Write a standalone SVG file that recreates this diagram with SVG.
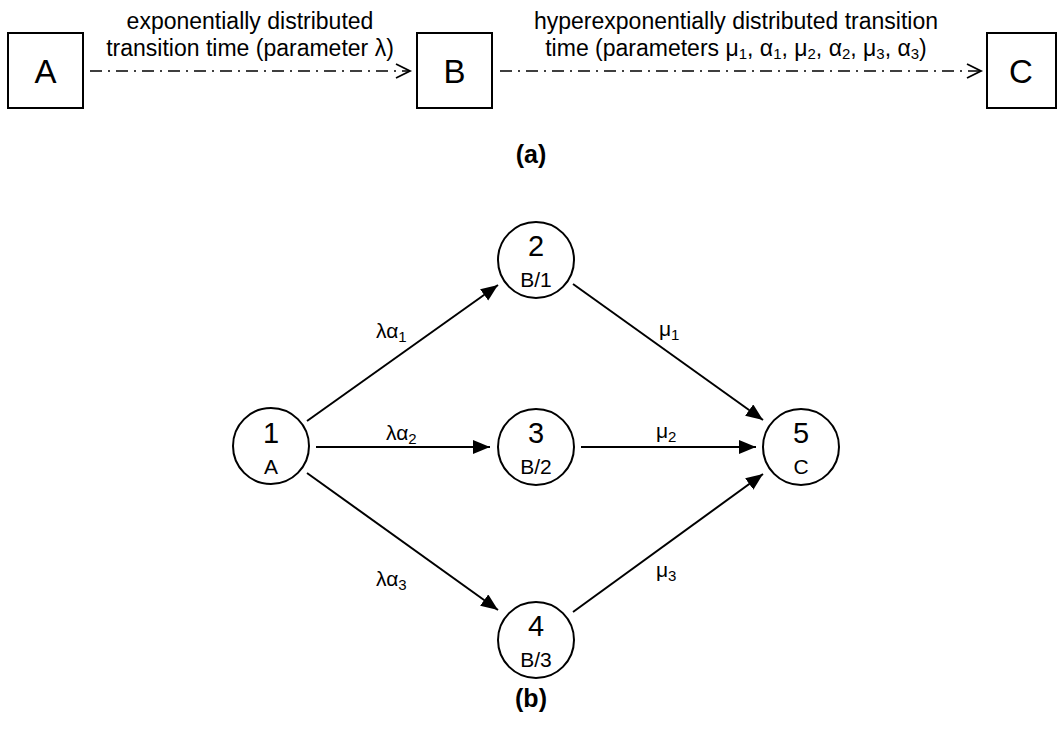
<svg xmlns="http://www.w3.org/2000/svg" width="1059" height="733" viewBox="0 0 1059 733">
  <defs>
    <style>
      text { font-family: "Liberation Sans", Arial, sans-serif; fill: #000; }
      .box { fill: #fff; stroke: #000; stroke-width: 2; }
      .state { fill: #fff; stroke: #000; stroke-width: 2; }
      .boxlbl { font-size: 33px; text-anchor: middle; }
      .num { font-size: 29px; text-anchor: middle; }
      .sub { font-size: 21px; text-anchor: middle; }
      .desc { font-size: 23px; text-anchor: middle; }
      .rate { font-size: 21px; }
      .cap { font-size: 25px; font-weight: bold; text-anchor: middle; }
      .dashdot { fill: none; stroke: #000; stroke-width: 1.6; stroke-dasharray: 12 6 2 6; }
      .edge { fill: none; stroke: #000; stroke-width: 2; }
    </style>
    <marker id="open" markerUnits="userSpaceOnUse" markerWidth="20" markerHeight="20" refX="15" refY="8" orient="auto">
      <path d="M1,1 L15,8 L1,15" fill="none" stroke="#000" stroke-width="1.8"/>
    </marker>
    <marker id="solid" markerUnits="userSpaceOnUse" markerWidth="20" markerHeight="16" refX="17" refY="7" orient="auto">
      <path d="M0,0 L17,7 L0,14 Z" fill="#000"/>
    </marker>
  </defs>

  <!-- (a) state sequence -->
  <g id="boxA">
    <rect class="box" x="8" y="33" width="75" height="75"/>
    <text class="boxlbl" x="45.5" y="82.5">A</text>
  </g>
  <g id="boxB">
    <rect class="box" x="417" y="33" width="75" height="75"/>
    <text class="boxlbl" x="454.5" y="82.5">B</text>
  </g>
  <g id="boxC">
    <rect class="box" x="987" y="33" width="69" height="75"/>
    <text class="boxlbl" x="1021" y="82.5">C</text>
  </g>

  <g id="transitions-a">
    <line class="dashdot" x1="90" y1="71" x2="410" y2="71" marker-end="url(#open)"/>
    <line class="dashdot" x1="500" y1="71" x2="981" y2="71" marker-end="url(#open)"/>
    <text class="desc" x="250" y="29">exponentially distributed</text>
    <text class="desc" x="250" y="56">transition time (parameter λ)</text>
    <text class="desc" x="736" y="29">hyperexponentially distributed transition</text>
    <text class="desc" x="736" y="56">time (parameters μ<tspan font-size="15" dy="3">1</tspan><tspan dy="-3">, α</tspan><tspan font-size="15" dy="3">1</tspan><tspan dy="-3">, μ</tspan><tspan font-size="15" dy="3">2</tspan><tspan dy="-3">, α</tspan><tspan font-size="15" dy="3">2</tspan><tspan dy="-3">, μ</tspan><tspan font-size="15" dy="3">3</tspan><tspan dy="-3">, α</tspan><tspan font-size="15" dy="3">3</tspan><tspan dy="-3">)</tspan></text>
  </g>

  <text class="cap" x="531" y="163">(a)</text>

  <!-- (b) Markov chain -->
  <g id="connectors">
    <line class="edge" x1="307" y1="421" x2="498" y2="285" marker-end="url(#solid)"/>
    <line class="edge" x1="316" y1="447" x2="490" y2="447" marker-end="url(#solid)"/>
    <line class="edge" x1="307" y1="473" x2="498" y2="610" marker-end="url(#solid)"/>
    <line class="edge" x1="573" y1="284" x2="763" y2="420" marker-end="url(#solid)"/>
    <line class="edge" x1="581" y1="447" x2="756" y2="447" marker-end="url(#solid)"/>
    <line class="edge" x1="573" y1="612" x2="763" y2="474" marker-end="url(#solid)"/>
    <text class="rate" x="376" y="338">λα<tspan font-size="15" dy="4">1</tspan></text>
    <text class="rate" x="386" y="440">λα<tspan font-size="15" dy="4">2</tspan></text>
    <text class="rate" x="376" y="586">λα<tspan font-size="15" dy="4">3</tspan></text>
    <text class="rate" x="659" y="336">μ<tspan font-size="15" dy="4">1</tspan></text>
    <text class="rate" x="656" y="438">μ<tspan font-size="15" dy="4">2</tspan></text>
    <text class="rate" x="656" y="577">μ<tspan font-size="15" dy="4">3</tspan></text>
  </g>

  <g id="node1">
    <circle class="state" cx="271" cy="446" r="38"/>
    <text class="num" x="271" y="443">1</text>
    <text class="sub" x="271" y="474">A</text>
  </g>
  <g id="node2">
    <circle class="state" cx="536" cy="260" r="38"/>
    <text class="num" x="536" y="256">2</text>
    <text class="sub" x="536" y="287">B/1</text>
  </g>
  <g id="node3">
    <circle class="state" cx="536" cy="447" r="38"/>
    <text class="num" x="536" y="443">3</text>
    <text class="sub" x="536" y="474">B/2</text>
  </g>
  <g id="node4">
    <circle class="state" cx="536" cy="640" r="38"/>
    <text class="num" x="536" y="636">4</text>
    <text class="sub" x="536" y="667">B/3</text>
  </g>
  <g id="node5">
    <circle class="state" cx="801" cy="447" r="38"/>
    <text class="num" x="801" y="443">5</text>
    <text class="sub" x="801" y="474">C</text>
  </g>

  <text class="cap" x="531" y="707">(b)</text>
</svg>
